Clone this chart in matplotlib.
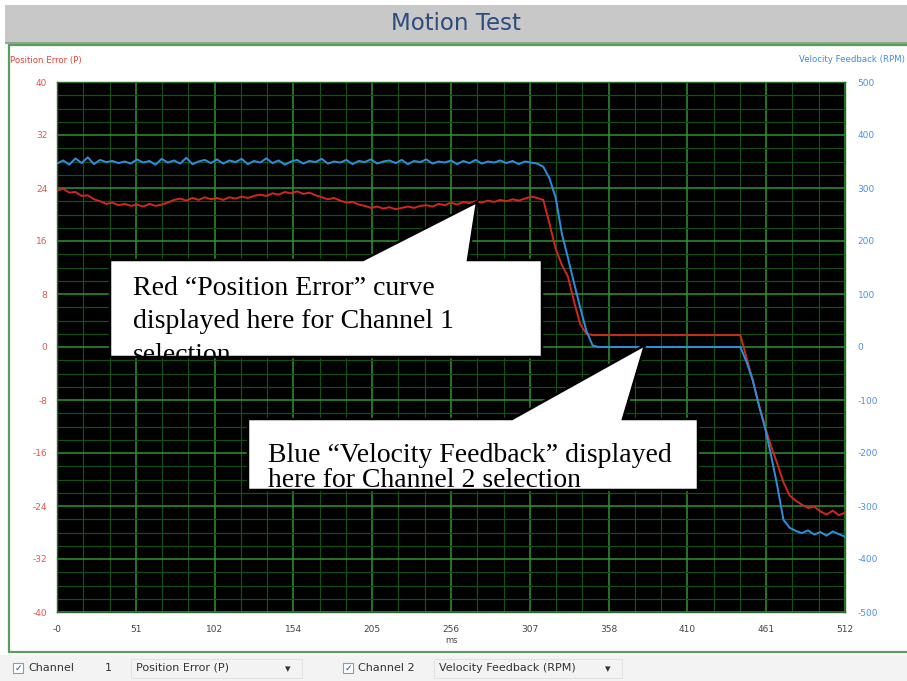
import numpy as np
import matplotlib
matplotlib.use("Agg")
import matplotlib.pyplot as plt
from matplotlib.patches import Rectangle, Polygon
from matplotlib.ticker import MultipleLocator
from matplotlib.transforms import Bbox, TransformedBbox

# ---------------- data ----------------
time_ms = list(range(0, 513, 4))

velocity_rpm = [
    346, 352, 344, 356, 347, 358, 345, 353, 349, 351, 347, 350, 346, 354, 348, 351,
    344, 355, 348, 352, 346, 357, 345, 350, 353, 347, 354, 346, 352, 349, 355, 345,
    351, 348, 356, 347, 352, 344, 350, 353, 346, 351, 349, 355, 346, 350, 348, 353,
    345, 351, 349, 354, 346, 350, 352, 347, 353, 345, 351, 349, 354, 346, 350, 348,
    352, 345, 351, 347, 353, 346, 350, 348, 352, 347, 351, 345, 350, 348, 346,
    340, 318, 282, 214, 168, 120, 74, 30, 3,
    0, 0, 0, 0, 0, 0, 0, 0, 0, 0, 0, 0, 0, 0, 0, 0, 0, 0, 0, 0, 0, 0, 0,
    0, -28, -62, -110, -152, -205, -262, -326, -341, -347, -351, -346, -354, -349,
    -356, -348, -353, -358,
]

position_error = [
    23.6, 23.9, 23.3, 23.4, 22.8, 22.9, 22.3, 22.0, 21.6, 21.8, 21.4, 21.6, 21.3, 21.5,
    21.2, 21.6, 21.3, 21.5, 21.8, 22.2, 22.4, 22.1, 22.5, 22.2, 22.6, 22.3, 22.5, 22.2,
    22.6, 22.4, 22.7, 22.5, 22.8, 23.0, 22.8, 23.2, 23.0, 23.4, 23.2, 23.5, 23.1, 23.3,
    22.9, 22.6, 22.3, 22.5, 22.1, 21.8, 21.9, 21.5, 21.3, 21.0, 21.2, 20.9, 21.1, 20.8,
    21.0, 21.2, 21.0, 21.3, 21.4, 21.2, 21.6, 21.4, 21.8, 21.5, 21.9, 21.7, 22.0, 21.8,
    22.1, 21.9, 22.2, 22.0, 22.3, 22.1, 22.4, 22.7, 22.5,
    22.2, 18.6, 14.8, 12.4, 10.6, 6.8, 3.4, 2.0, 1.8,
    1.8, 1.8, 1.8, 1.8, 1.8, 1.8, 1.8, 1.8, 1.8, 1.8, 1.8, 1.8, 1.8, 1.8, 1.8, 1.8,
    1.8, 1.8, 1.8, 1.8, 1.8, 1.8, 1.8,
    1.8, -1.6, -5.0, -8.6, -12.0, -15.0, -17.6, -20.4, -22.4, -23.2, -23.8, -24.3,
    -24.1, -24.8, -25.3, -24.7, -25.4, -25.0,
]

x_tick_labels = ["-0", "51", "102", "154", "205", "256", "307", "358", "410", "461", "512"]
left_tick_labels = ["-40", "-32", "-24", "-16", "-8", "0", "8", "16", "24", "32", "40"]
right_tick_labels = ["-500", "-400", "-300", "-200", "-100", "0", "100", "200", "300", "400", "500"]

title_text = "Motion Test"
left_label = "Position Error (P)"
right_label = "Velocity Feedback (RPM)"
callout1_lines = ["Red \u201cPosition Error\u201d curve", "displayed here for Channel 1", "selection"]
callout2_lines = ["Blue \u201cVelocity Feedback\u201d displayed", "here for Channel 2 selection"]

# ---------------- figure ----------------
W, H = 907, 681
fig = plt.figure(figsize=(W / 100, H / 100), dpi=100)
fig.patch.set_facecolor("white")


def fx(x):
    return x / W


def fy(y):
    return 1 - y / H


def prect(x0, y0, x1, y1, **kw):
    return Rectangle((fx(x0), fy(y1)), (x1 - x0) / W, (y1 - y0) / H,
                     transform=fig.transFigure, **kw)


# title band
fig.add_artist(prect(5, 5, 910, 43, facecolor="#c8c8c8", edgecolor="none", zorder=-10))
fig.add_artist(prect(5, 42, 910, 44, facecolor="#8aa88a", edgecolor="none", zorder=-9))
# main panel with green border
fig.add_artist(prect(9, 45, 912, 652, facecolor="white", edgecolor="#5e9a5e", lw=1.6, zorder=-8))
# toolbar strip
fig.add_artist(prect(0, 655, 907, 681, facecolor="#f3f3f3", edgecolor="none", zorder=-8))

fig.text(fx(456), fy(24), title_text, ha="center", va="center", fontsize=16.5,
         color="#2d4c7c", family="DejaVu Sans")
fig.text(fx(10), fy(60), left_label, ha="left", va="center", fontsize=6.2, color="#e0443c")
fig.text(fx(905), fy(60), right_label, ha="right", va="center", fontsize=6.2, color="#3f8be0")

# ---------------- axes ----------------
ax = fig.add_axes([fx(57), fy(612), 788 / W, 530 / H])
ax.set_facecolor("black")
ax.set_xlim(0, 512)
ax.set_ylim(-40, 40)
ax.set_xticks(np.linspace(0, 512, 11))
ax.set_xticklabels(x_tick_labels)
ax.xaxis.set_minor_locator(MultipleLocator(512 / 30))
ax.set_yticks(np.linspace(-40, 40, 11))
ax.set_yticklabels(left_tick_labels)
ax.yaxis.set_minor_locator(MultipleLocator(2))
ax.grid(which="minor", color="#174d17", lw=0.9)
ax.grid(which="major", color="#2e952e", lw=1.1)
ax.set_axisbelow(True)
ax.tick_params(which="both", length=0)
ax.tick_params(axis="y", colors="#e0564e", labelsize=6.5, pad=7)
ax.tick_params(axis="x", colors="#444444", labelsize=6.5, pad=9)
ax.set_xlabel("ms", fontsize=6, color="#444444", labelpad=2)
for s in ax.spines.values():
    s.set_color("#2a6a2a")
    s.set_linewidth(1.0)

ax.plot(time_ms, position_error, color="#d0281c", lw=1.4, zorder=3)

ax2 = ax.twinx()
ax2.set_ylim(-500, 500)
ax2.set_yticks(np.linspace(-500, 500, 11))
ax2.set_yticklabels(right_tick_labels)
ax2.tick_params(which="both", length=0)
ax2.tick_params(axis="y", colors="#4a90e6", labelsize=6.5, pad=9)
for s in ax2.spines.values():
    s.set_visible(False)
ax2.plot(time_ms, velocity_rpm, color="#2d8ee0", lw=1.4, zorder=3)

# ---------------- callouts ----------------
def ppoly(pts, **kw):
    return Polygon([(fx(x), fy(y)) for x, y in pts], closed=True,
                   transform=fig.transFigure, **kw)


c1_pts = [(110, 260), (363, 260), (477, 202), (468, 260), (542, 260), (542, 357), (110, 357)]
fig.add_artist(ppoly(c1_pts, facecolor="white", edgecolor="none", zorder=10))
fig.add_artist(ppoly(c1_pts, facecolor="none", edgecolor="black", lw=1.8, zorder=12))
clip_box = TransformedBbox(Bbox.from_extents(fx(111), fy(356), fx(541), fy(261)),
                           fig.transFigure)
for i, (line, base) in enumerate(zip(callout1_lines, [295, 328, 362])):
    t = fig.text(fx(133), fy(base), line, ha="left", va="baseline", fontsize=20,
                 family="Liberation Serif", color="black", zorder=11)
    t.set_clip_box(clip_box)
    t.set_clip_on(True)

c2_pts = [(248, 419), (512, 419), (645, 345), (623, 419), (698, 419), (698, 490), (248, 490)]
fig.add_artist(ppoly(c2_pts, facecolor="white", edgecolor="none", zorder=10))
fig.add_artist(ppoly(c2_pts, facecolor="none", edgecolor="black", lw=1.8, zorder=12))
for line, base in zip(callout2_lines, [462, 487]):
    fig.text(fx(268), fy(base), line, ha="left", va="baseline", fontsize=20,
             family="Liberation Serif", color="black", zorder=11)

# ---------------- toolbar ----------------
for bx in (13, 343):
    fig.add_artist(prect(bx, 663, bx + 10, 673, facecolor="white", edgecolor="#8d9bab",
                         lw=0.8, zorder=5))
    fig.text(fx(bx + 5), fy(668), "\u2713", ha="center", va="center", fontsize=6.5,
             color="#2a4a80", zorder=6)
# dropdown frames
fig.add_artist(prect(131, 659, 302, 678, facecolor="none", edgecolor="#e2e2e2", lw=0.8, zorder=5))
fig.add_artist(prect(434, 659, 622, 678, facecolor="none", edgecolor="#e2e2e2", lw=0.8, zorder=5))
tb = dict(va="center", fontsize=8, color="#333333", zorder=6)
fig.text(fx(28), fy(668), "Channel", ha="left", **tb)
fig.text(fx(105), fy(668), "1", ha="left", **tb)
fig.text(fx(136), fy(668), "Position Error (P)", ha="left", **tb)
fig.text(fx(288), fy(669), "\u25be", ha="center", **tb)
fig.text(fx(358), fy(668), "Channel 2", ha="left", **tb)
fig.text(fx(439), fy(668), "Velocity Feedback (RPM)", ha="left", **tb)
fig.text(fx(608), fy(669), "\u25be", ha="center", **tb)

fig.savefig("out.png", dpi=100)
